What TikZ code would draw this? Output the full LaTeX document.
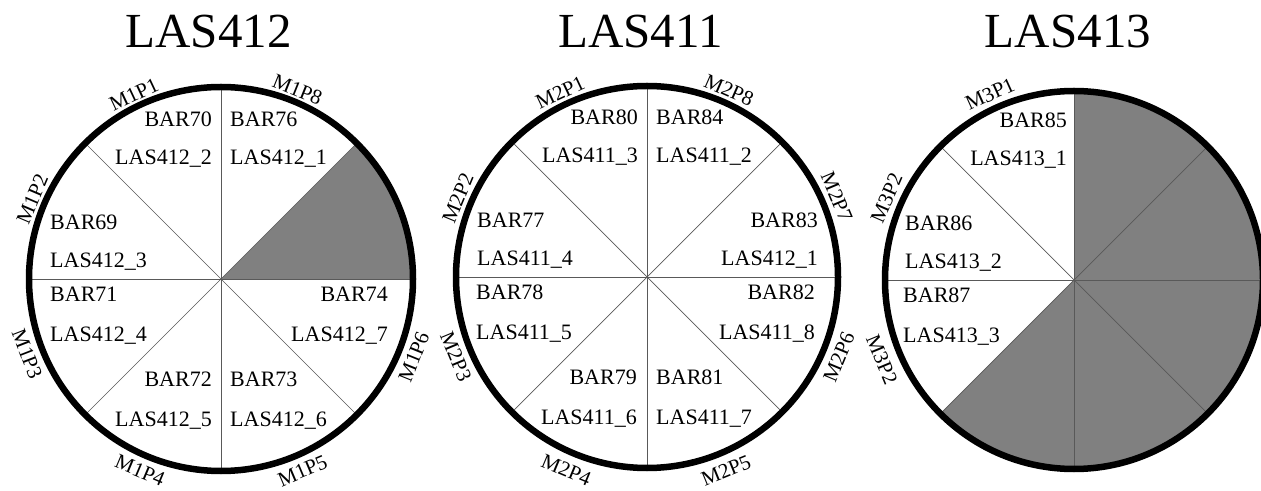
\documentclass[tikz,border=0pt]{standalone}
\usepackage{fontspec}
\setmainfont{Liberation Serif}
\definecolor{sectorgray}{HTML}{808080}
\tikzset{
  spoke/.style={draw=black!65, line width=0.7pt},
  ring/.style={draw=black, line width=6.5pt},
  lbl/.style={inner sep=0pt, font=\fontsize{22}{26}\selectfont},
  plbl/.style={inner sep=0pt, font=\fontsize{21}{25}\selectfont},
  ttl/.style={inner sep=0pt, anchor=base, font=\fontsize{49}{58}\selectfont},
}
\begin{document}
\begin{tikzpicture}[x=1pt,y=1pt]
\useasboundingbox (0,0) rectangle (1261,490);
\fill[white] (0,0) rectangle (1261,490);

% titles
\node[ttl] (t1) at (208.5,442) {LAS412};
\node[ttl] (t2) at (640.5,442) {LAS411};
\node[ttl] (t3) at (1068,442) {LAS413};

% ---------- circle 1 ----------
\begin{scope}[shift={(221,211)}]
  \fill[sectorgray] (0,0) -- (0:192) arc[start angle=0,end angle=45,radius=192] -- cycle;
  \foreach \a in {0,45,...,315} \draw[spoke] (0,0) -- (\a:192);
  \draw[ring] (0,0) circle[radius=192];
  \node[lbl, anchor=base east] (a70) at (-9,152) {BAR70};
  \node[lbl, anchor=base east] (a2) at (-9,114) {LAS412\_2};
  \node[lbl, anchor=base west] (a76) at (9,152) {BAR76};
  \node[lbl, anchor=base west] (a1) at (9,114) {LAS412\_1};
  \node[lbl, anchor=base west] (a69) at (-171,49) {BAR69};
  \node[lbl, anchor=base west] (a3) at (-171,11) {LAS412\_3};
  \node[lbl, anchor=base west] (a71) at (-171,-23) {BAR71};
  \node[lbl, anchor=base west] (a4) at (-171,-63) {LAS412\_4};
  \node[lbl, anchor=base east] (a74) at (167,-23) {BAR74};
  \node[lbl, anchor=base east] (a7) at (167,-63) {LAS412\_7};
  \node[lbl, anchor=base east] (a72) at (-9,-108) {BAR72};
  \node[lbl, anchor=base east] (a5) at (-9,-148) {LAS412\_5};
  \node[lbl, anchor=base west] (a73) at (9,-108) {BAR73};
  \node[lbl, anchor=base west] (a6) at (9,-148) {LAS412\_6};
  \node[plbl, rotate=115.3-90] (m1p1) at (115.3:204) {M1P1};
  \node[plbl, rotate=68-90] (m1p8) at (68:204) {M1P8};
  \node[plbl, rotate=157-90] (m1p2) at (157:205) {M1P2};
  \node[plbl, rotate=201.2+90] (m1p3) at (201.2:208) {M1P3};
  \node[plbl, rotate=247.1+90] (m1p4) at (247.1:208) {M1P4};
  \node[plbl, rotate=293+90] (m1p5) at (293:208.5) {M1P5};
  \node[plbl, rotate=338+90] (m1p6) at (338:208) {M1P6};
\end{scope}

% ---------- circle 2 ----------
\begin{scope}[shift={(647,213)}]
  \foreach \a in {0,45,...,315} \draw[spoke] (0,0) -- (\a:191);
  \draw[ring] (0,0) circle[radius=191];
  \node[lbl, anchor=base east] (b80) at (-9,152) {BAR80};
  \node[lbl, anchor=base east] (b3) at (-9,114) {LAS411\_3};
  \node[lbl, anchor=base west] (b84) at (9,152) {BAR84};
  \node[lbl, anchor=base west] (b2) at (9,114) {LAS411\_2};
  \node[lbl, anchor=base west] (b77) at (-170,49) {BAR77};
  \node[lbl, anchor=base west] (b4) at (-170,11) {LAS411\_4};
  \node[lbl, anchor=base east] (b83) at (171,49) {BAR83};
  \node[lbl, anchor=base east] (b1) at (171,11) {LAS412\_1};
  \node[lbl, anchor=base west] (b78) at (-171,-23) {BAR78};
  \node[lbl, anchor=base west] (b5) at (-171,-63) {LAS411\_5};
  \node[lbl, anchor=base east] (b82) at (168,-23) {BAR82};
  \node[lbl, anchor=base east] (b8) at (168,-63) {LAS411\_8};
  \node[lbl, anchor=base east] (b79) at (-10,-108) {BAR79};
  \node[lbl, anchor=base east] (b6) at (-10,-148) {LAS411\_6};
  \node[lbl, anchor=base west] (b81) at (9,-108) {BAR81};
  \node[lbl, anchor=base west] (b7) at (9,-148) {LAS411\_7};
  \node[plbl, rotate=115.2-90] (m2p1) at (115.2:204) {M2P1};
  \node[plbl, rotate=66.3-90] (m2p8) at (66.3:204) {M2P8};
  \node[plbl, rotate=157.4-90] (m2p2) at (157.4:205) {M2P2};
  \node[plbl, rotate=22.9-90] (m2p7) at (22.9:206) {M2P7};
  \node[plbl, rotate=202.6+90] (m2p3) at (202.6:207) {M2P3};
  \node[plbl, rotate=337.4+90] (m2p6) at (337.4:208) {M2P6};
  \node[plbl, rotate=247.3+90] (m2p4) at (247.3:209) {M2P4};
  \node[plbl, rotate=292.2+90] (m2p5) at (292.2:209) {M2P5};
\end{scope}

% ---------- circle 3 ----------
\begin{scope}[shift={(1074,210)}]
  \fill[sectorgray] (0,0) -- (-135:189) arc[start angle=-135,end angle=90,radius=189] -- cycle;
  \foreach \a in {0,45,...,315} \draw[spoke] (0,0) -- (\a:189);
  \draw[ring] (0,0) circle[radius=189];
  \node[lbl, anchor=base east] (c85) at (-7,152) {BAR85};
  \node[lbl, anchor=base east] (c1) at (-7,114) {LAS413\_1};
  \node[lbl, anchor=base west] (c86) at (-169,49) {BAR86};
  \node[lbl, anchor=base west] (c2) at (-169,11) {LAS413\_2};
  \node[lbl, anchor=base west] (c87) at (-171,-23) {BAR87};
  \node[lbl, anchor=base west] (c3) at (-171,-63) {LAS413\_3};
  \node[plbl, rotate=114.3-90] (m3p1) at (114.3:204) {M3P1};
  \node[plbl, rotate=156.4-90] (m3p2) at (156.4:204.5) {M3P2};
  \node[plbl, rotate=202.5+90] (m3p2b) at (202.5:208) {M3P2};
\end{scope}
\end{tikzpicture}
\end{document}
